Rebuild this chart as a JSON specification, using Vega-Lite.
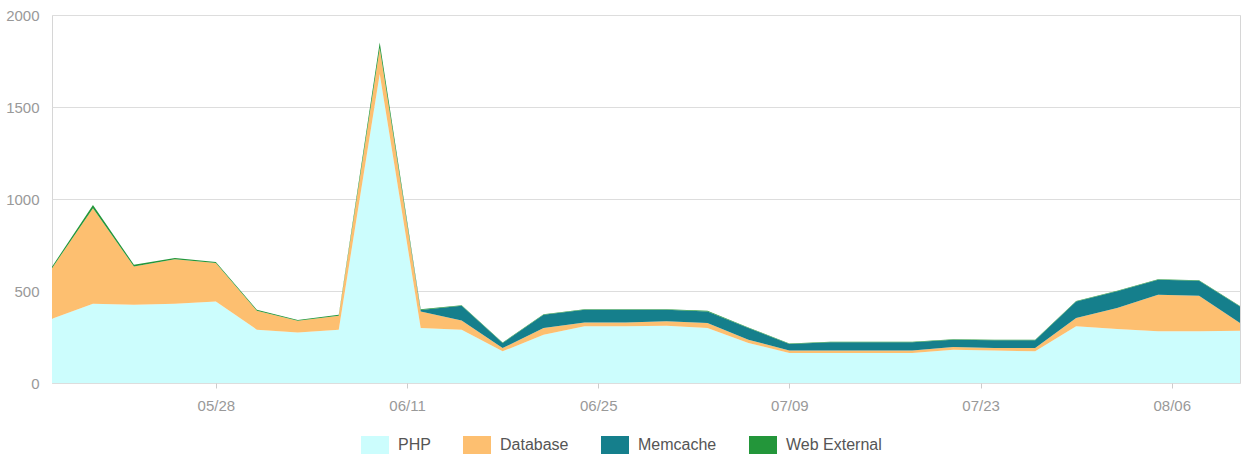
{
  "$schema": "https://vega.github.io/schema/vega-lite/v6.json",
  "width": 1188,
  "height": 368,
  "autosize": {"type": "none"},
  "padding": {"left": 52, "top": 15, "right": 12, "bottom": 93},
  "background": "white",
  "config": {
    "view": {"stroke": "#d6d6d6", "strokeWidth": 1},
    "font": "Liberation Sans"
  },
  "data": {
    "values": [
      {"date": "2012/05/16", "PHP": 349, "Database": 275, "Memcache": 0, "Web External": 8},
      {"date": "2012/05/19", "PHP": 431, "Database": 519, "Memcache": 0, "Web External": 18},
      {"date": "2012/05/22", "PHP": 425, "Database": 208, "Memcache": 0, "Web External": 10},
      {"date": "2012/05/25", "PHP": 431, "Database": 242, "Memcache": 0, "Web External": 7},
      {"date": "2012/05/28", "PHP": 443, "Database": 209, "Memcache": 0, "Web External": 6},
      {"date": "2012/05/31", "PHP": 290, "Database": 103, "Memcache": 0, "Web External": 5},
      {"date": "2012/06/03", "PHP": 275, "Database": 63, "Memcache": 0, "Web External": 5},
      {"date": "2012/06/06", "PHP": 290, "Database": 76, "Memcache": 0, "Web External": 5},
      {"date": "2012/06/09", "PHP": 1680, "Database": 140, "Memcache": 0, "Web External": 30},
      {"date": "2012/06/12", "PHP": 299, "Database": 90, "Memcache": 8, "Web External": 4},
      {"date": "2012/06/15", "PHP": 290, "Database": 50, "Memcache": 80, "Web External": 3},
      {"date": "2012/06/18", "PHP": 172, "Database": 18, "Memcache": 27, "Web External": 3},
      {"date": "2012/06/21", "PHP": 262, "Database": 37, "Memcache": 72, "Web External": 3},
      {"date": "2012/06/24", "PHP": 308, "Database": 21, "Memcache": 69, "Web External": 3},
      {"date": "2012/06/27", "PHP": 308, "Database": 21, "Memcache": 69, "Web External": 3},
      {"date": "2012/06/30", "PHP": 311, "Database": 24, "Memcache": 63, "Web External": 3},
      {"date": "2012/07/03", "PHP": 299, "Database": 27, "Memcache": 63, "Web External": 3},
      {"date": "2012/07/06", "PHP": 217, "Database": 18, "Memcache": 64, "Web External": 3},
      {"date": "2012/07/09", "PHP": 163, "Database": 14, "Memcache": 35, "Web External": 3},
      {"date": "2012/07/12", "PHP": 163, "Database": 14, "Memcache": 44, "Web External": 3},
      {"date": "2012/07/15", "PHP": 163, "Database": 14, "Memcache": 44, "Web External": 3},
      {"date": "2012/07/18", "PHP": 163, "Database": 14, "Memcache": 44, "Web External": 3},
      {"date": "2012/07/21", "PHP": 181, "Database": 14, "Memcache": 40, "Web External": 3},
      {"date": "2012/07/24", "PHP": 176, "Database": 14, "Memcache": 42, "Web External": 3},
      {"date": "2012/07/27", "PHP": 172, "Database": 18, "Memcache": 42, "Web External": 3},
      {"date": "2012/07/30", "PHP": 308, "Database": 45, "Memcache": 90, "Web External": 3},
      {"date": "2012/08/02", "PHP": 293, "Database": 114, "Memcache": 91, "Web External": 3},
      {"date": "2012/08/05", "PHP": 281, "Database": 199, "Memcache": 81, "Web External": 3},
      {"date": "2012/08/08", "PHP": 281, "Database": 193, "Memcache": 82, "Web External": 3},
      {"date": "2012/08/11", "PHP": 284, "Database": 42, "Memcache": 90, "Web External": 3}
    ]
  },
  "transform": [
    {"fold": ["PHP", "Database", "Memcache", "Web External"], "as": ["series", "value"]},
    {"window": [{"op": "row_number", "as": "layerIndex"}], "groupby": ["date"]}
  ],
  "mark": {"type": "area", "interpolate": "linear"},
  "encoding": {
    "x": {
      "field": "date",
      "type": "temporal",
      "scale": {
        "domain": [{"year": 2012, "month": 5, "date": 16}, {"year": 2012, "month": 8, "date": 11}],
        "nice": false
      },
      "axis": {
        "title": null,
        "format": "%m/%d",
        "values": [
          {"year": 2012, "month": 5, "date": 28},
          {"year": 2012, "month": 6, "date": 11},
          {"year": 2012, "month": 6, "date": 25},
          {"year": 2012, "month": 7, "date": 9},
          {"year": 2012, "month": 7, "date": 23},
          {"year": 2012, "month": 8, "date": 6}
        ],
        "grid": false,
        "domain": false,
        "ticks": true,
        "tickSize": 5,
        "tickColor": "#cccccc",
        "labelColor": "#999999",
        "labelFontSize": 15,
        "labelPadding": 10
      }
    },
    "y": {
      "field": "value",
      "type": "quantitative",
      "stack": "zero",
      "scale": {"domain": [0, 2000], "nice": false},
      "axis": {
        "title": null,
        "format": "d",
        "values": [0, 500, 1000, 1500, 2000],
        "grid": true,
        "gridColor": "#dddddd",
        "domain": false,
        "ticks": false,
        "labelColor": "#999999",
        "labelFontSize": 15,
        "labelPadding": 13
      }
    },
    "color": {
      "field": "series",
      "type": "nominal",
      "scale": {
        "domain": ["PHP", "Database", "Memcache", "Web External"],
        "range": ["#ccfdfd", "#fdbf70", "#157f8c", "#23963a"]
      },
      "legend": {
        "title": null,
        "orient": "none",
        "direction": "horizontal",
        "columns": 4,
        "legendX": 313,
        "legendY": 420,
        "symbolType": "M-1.4,-0.9H1.4V0.9H-1.4Z",
        "symbolSize": 400,
        "symbolStrokeWidth": 0,
        "symbolOpacity": 1,
        "labelFontSize": 16,
        "labelColor": "#555555",
        "labelOffset": 13,
        "columnPadding": 32
      }
    },
    "order": {"field": "layerIndex", "type": "quantitative", "sort": "ascending"}
  }
}
